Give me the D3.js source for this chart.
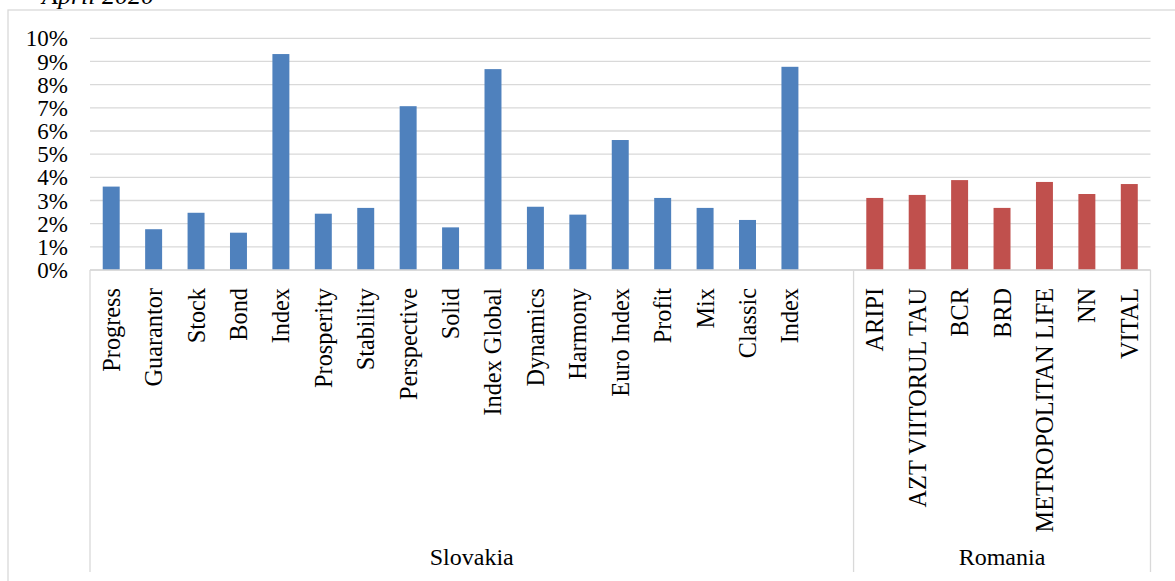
<!DOCTYPE html>
<html>
<head>
<meta charset="utf-8">
<script src="https://cdn.jsdelivr.net/npm/d3@7"></script>
<style>
  html, body { margin: 0; padding: 0; background: #fff; }
  svg { display: block; font-family: "Liberation Serif", "Times New Roman", serif; }
</style>
</head>
<body>
<svg id="chart" width="1175" height="581"></svg>
<script>
// ---- Data ----
const slovakiaFunds = ["Progress", "Guarantor", "Stock", "Bond", "Index", "Prosperity", "Stability",
  "Perspective", "Solid", "Index Global", "Dynamics", "Harmony", "Euro Index", "Profit", "Mix", "Classic", "Index"];
const slovakiaValues = [3.60, 1.76, 2.47, 1.61, 9.32, 2.43, 2.68, 7.07, 1.84, 8.67, 2.73, 2.39, 5.61, 3.11, 2.68, 2.16, 8.77];
const romaniaFunds = ["ARIPI", "AZT VIITORUL TAU", "BCR", "BRD", "METROPOLITAN LIFE", "NN", "VITAL"];
const romaniaValues = [3.11, 3.24, 3.88, 2.68, 3.80, 3.28, 3.71];
const groups = ["Slovakia", "Romania"];
const yTicks = [0, 1, 2, 3, 4, 5, 6, 7, 8, 9, 10];
const titleText = "April 2020";
const colors = { Slovakia: "#4F81BD", Romania: "#C0504D" };

// Build flat slot list (Slovakia has one trailing empty slot)
const slots = [];
slovakiaFunds.forEach((n, i) => slots.push({ key: "S" + i, name: n, value: slovakiaValues[i], group: "Slovakia" }));
slots.push({ key: "S_empty", name: "", value: null, group: "Slovakia" });
romaniaFunds.forEach((n, i) => slots.push({ key: "R" + i, name: n, value: romaniaValues[i], group: "Romania" }));

// ---- Layout ----
const svg = d3.select("#chart");
const plot = { left: 90, right: 1150.5, top: 38.3, bottom: 270 };
const axisBottom = 572;
const serif = "Liberation Serif, Times New Roman, serif";

const x = d3.scaleBand().domain(slots.map(d => d.key)).range([plot.left, plot.right]).padding(0);
const y = d3.scaleLinear().domain([0, 10]).range([plot.bottom, plot.top]);
const barW = x.bandwidth() * 0.4;

// outer chart border
svg.append("rect").attr("x", 8).attr("y", 10).attr("width", 1200).attr("height", 620)
  .attr("fill", "none").attr("stroke", "#d9d9d9").attr("stroke-width", 1.3);

// title (partially cut at the top, as in the source)
svg.append("text").attr("x", 42).attr("y", 4).attr("font-size", 26).attr("font-style", "italic")
  .attr("fill", "#000").text(titleText);

// gridlines
svg.append("g").selectAll("line").data(yTicks).join("line")
  .attr("x1", plot.left).attr("x2", plot.right)
  .attr("y1", d => y(d)).attr("y2", d => y(d))
  .attr("stroke", "#d9d9d9").attr("stroke-width", 1.3);

// y axis labels
const yAxis = d3.axisLeft(y).tickValues(yTicks).tickFormat(d => d + "%").tickSize(0).tickPadding(0);
const yg = svg.append("g").attr("transform", `translate(68,0)`).call(yAxis);
yg.attr("font-family", serif).attr("font-size", 23);
yg.select(".domain").remove();
yg.selectAll("text").attr("fill", "#000").attr("dy", "0.33em");

// bars
svg.append("g").selectAll("rect").data(slots.filter(d => d.value != null)).join("rect")
  .attr("x", d => x(d.key) + (x.bandwidth() - barW) / 2)
  .attr("width", barW)
  .attr("y", d => y(d.value))
  .attr("height", d => y(0) - y(d.value))
  .attr("fill", d => colors[d.group]);

// category axis lines (multi-level)
const axisG = svg.append("g").attr("stroke", "#d9d9d9").attr("stroke-width", 1.3);
axisG.append("line").attr("x1", plot.left).attr("x2", plot.right).attr("y1", y(0)).attr("y2", y(0));
const groupBounds = groups.map(g => {
  const s = slots.filter(d => d.group === g);
  return { name: g, x0: x(s[0].key), x1: x(s[s.length - 1].key) + x.bandwidth() };
});
const dividers = [groupBounds[0].x0, groupBounds[1].x0, groupBounds[1].x1];
axisG.selectAll("line.div").data(dividers).join("line").attr("class", "div")
  .attr("x1", d => d).attr("x2", d => d).attr("y1", y(0)).attr("y2", axisBottom);

// category labels (rotated)
svg.append("g").selectAll("text").data(slots.filter(d => d.name)).join("text")
  .attr("transform", d => `translate(${x(d.key) + x.bandwidth() / 2 + 8.5},288) rotate(-90)`)
  .attr("text-anchor", "end")
  .attr("font-size", 24.3).attr("fill", "#000")
  .text(d => d.name);

// group labels
svg.append("g").selectAll("text").data(groupBounds).join("text")
  .attr("x", d => (d.x0 + d.x1) / 2).attr("y", 565)
  .attr("text-anchor", "middle").attr("font-size", 24).attr("fill", "#000")
  .text(d => d.name);
</script>
</body>
</html>
